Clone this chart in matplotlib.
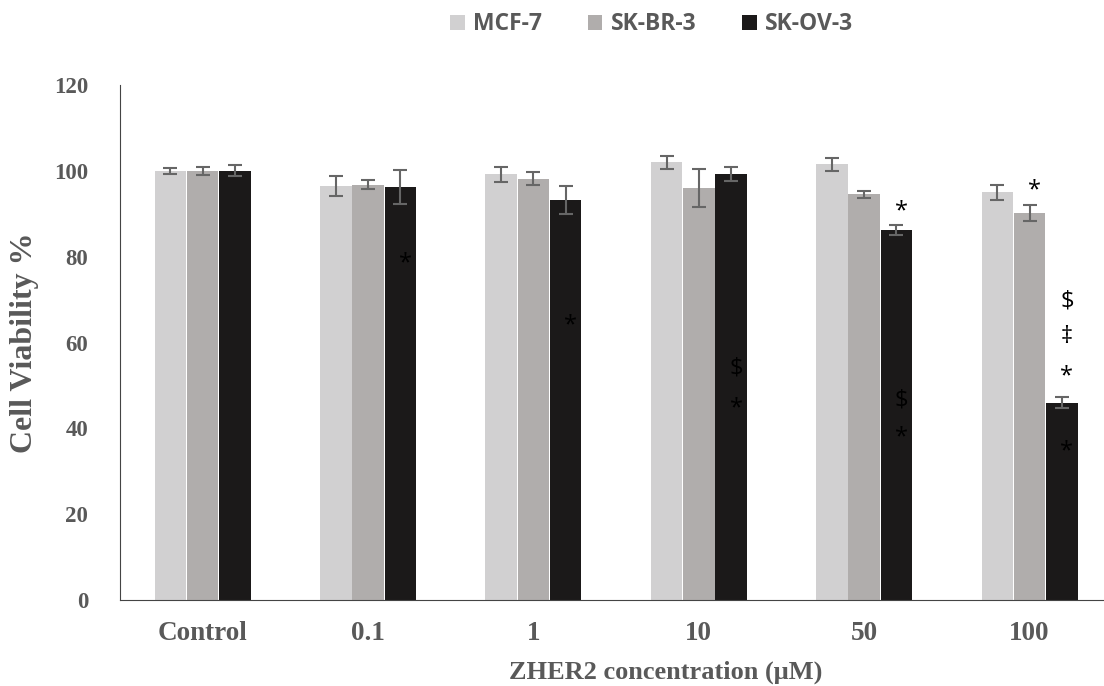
import matplotlib.pyplot as plt
import numpy as np

# cell viability data
groups = ["Control", "0.1", "1", "10", "50", "100"]
series = ["MCF-7", "SK-BR-3", "SK-OV-3"]
mcf7 = [100, 96.5, 99.2, 102, 101.5, 95]
skbr3 = [100, 96.8, 98.2, 96, 94.5, 90.2]
skov3 = [100, 96.3, 93.2, 99.3, 86.3, 46]
mcf7_err = [0.7, 2.3, 1.8, 1.5, 1.5, 1.8]
skbr3_err = [1.0, 1.0, 1.5, 4.5, 0.8, 1.8]
skov3_err = [1.3, 4.0, 3.3, 1.7, 1.2, 1.2]

# significance marks: (group index, series index, y value, symbol)
marks = [
    (1, 2, 78.5, "*"),
    (2, 2, 64, "*"),
    (3, 2, 54, "$"),
    (3, 2, 44.7, "*"),
    (4, 2, 90.5, "*"),
    (4, 2, 46.5, "$"),
    (4, 2, 38, "*"),
    (5, 1, 95.5, "*"),
    (5, 2, 69.5, "$"),
    (5, 2, 61.2, "\u2021"),
    (5, 2, 52, "*"),
    (5, 2, 34.7, "*"),
]

colors = ["#d1d0d1", "#b0adac", "#1b1919"]
grey = "#595959"

fig = plt.figure(figsize=(11.04, 6.86), dpi=100)
ax = fig.add_axes([0.1087, 0.1254, 0.8913, 0.7506])

x = np.arange(len(groups))
w = 0.19
off = 0.195
data = [mcf7, skbr3, skov3]
errs = [mcf7_err, skbr3_err, skov3_err]
for i in range(3):
    ax.bar(x + (i - 1) * off, data[i], w, color=colors[i], label=series[i],
           yerr=errs[i], error_kw=dict(ecolor="#666666", elinewidth=1.5,
                                       capsize=5, capthick=1.5), zorder=2)

for g, s, yv, sym in marks:
    ax.text(g + (s - 1) * off + 0.03, yv, sym, ha="center", va="center",
            fontsize=17, family="Open Sans", color="black", zorder=3)

ax.set_xlim(-0.5, 5.45)
ax.set_ylim(0, 120)
ax.set_yticks(range(0, 121, 20))
ax.set_xticks(x)
ax.set_xticklabels(groups)
ax.tick_params(length=0)
for lab in ax.get_yticklabels():
    lab.set(family="Liberation Serif", fontweight="bold", fontsize=16.5, color=grey)
for lab in ax.get_xticklabels():
    lab.set(family="Liberation Serif", fontweight="bold", fontsize=19.5, color=grey)
ax.tick_params(axis="y", pad=23)
ax.tick_params(axis="x", pad=15)
ax.spines["top"].set_visible(False)
ax.spines["right"].set_visible(False)
ax.spines["left"].set_color("#444444")
ax.spines["bottom"].set_color("#444444")

ax.set_ylabel("Cell Viability %", family="Liberation Serif", fontweight="bold",
              fontsize=23, color=grey, labelpad=11)
ax.set_xlabel("ZHER2 concentration (\u03bcM)", family="Liberation Serif",
              fontweight="bold", fontsize=19, color=grey)
ax.xaxis.set_label_coords(0.555, -0.118)

leg = fig.legend(loc="upper center", bbox_to_anchor=(0.59, 1.012), ncol=3,
                 frameon=False, prop={"family": "Open Sans", "weight": "bold", "size": 16.5},
                 handlelength=0.65, handleheight=0.65, columnspacing=2.0, handletextpad=0.35)
for t in leg.get_texts():
    t.set_color(grey)

fig.savefig("out.png", dpi=100)
